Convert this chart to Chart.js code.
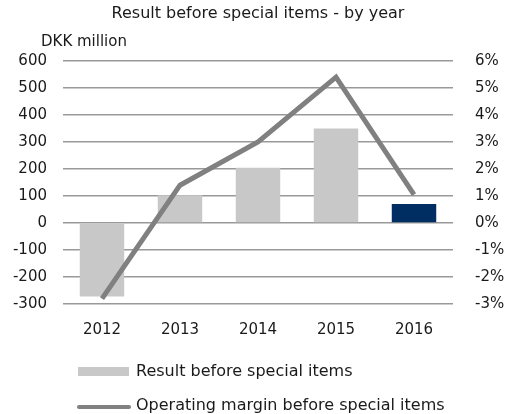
<!DOCTYPE html>
<html>
<head>
<meta charset="utf-8">
<script src="https://cdn.jsdelivr.net/npm/chart.js@4/dist/chart.umd.min.js"></script>
<style>
  html, body { margin: 0; padding: 0; background: #fff; }
  #wrap { width: 505px; height: 414px; }
</style>
</head>
<body>
<div id="wrap"><canvas id="chart" width="505" height="414"></canvas></div>
<script>
// data
const years = ['2012', '2013', '2014', '2015', '2016'];
const resultValues = [-272, 103, 205, 350, 70];
const marginValues = [-2.8, 1.4, 3.0, 5.4, 1.05];
const barColors = ['#c8c8c8', '#c8c8c8', '#c8c8c8', '#c8c8c8', '#002d62'];
const leftRange = [-300, 600];
const rightRange = [-3, 6];

const FONT = '"DejaVu Sans", Verdana, sans-serif';
const TXT = '#1a1a1a';
Chart.defaults.font.family = FONT;
Chart.defaults.color = TXT;

// title, unit label and the two-row legend
const textPlugin = {
    id: 'texts',
    afterDraw(chart) {
        const ctx = chart.ctx;
        const area = chart.chartArea;
        ctx.save();
        ctx.fillStyle = TXT;
        ctx.font = '16px ' + FONT;
        ctx.textBaseline = 'middle';
        ctx.textAlign = 'center';
        ctx.fillText('Result before special items - by year', (area.left + area.right) / 2, 14);
        ctx.font = '15px ' + FONT;
        ctx.textAlign = 'left';
        ctx.fillText('DKK million', 41, 42);

        const ds = chart.data.datasets;
        ctx.font = '16px ' + FONT;
        // bar item
        ctx.fillStyle = '#c8c8c8';
        ctx.fillRect(78, 367, 51, 9);
        ctx.fillStyle = TXT;
        ctx.fillText(ds[0].label, 136, 372);
        // line item
        ctx.strokeStyle = ds[1].borderColor;
        ctx.lineWidth = 4;
        ctx.lineCap = 'round';
        ctx.beginPath();
        ctx.moveTo(79, 407);
        ctx.lineTo(129, 407);
        ctx.stroke();
        ctx.fillText(ds[1].label, 136, 406);
        ctx.restore();
    }
};

new Chart(document.getElementById('chart'), {
    data: {
        labels: years,
        datasets: [
            { type: 'bar', label: 'Result before special items', data: resultValues,
              backgroundColor: barColors, barPercentage: 0.57, categoryPercentage: 1,
              yAxisID: 'y', order: 2 },
            { type: 'line', label: 'Operating margin before special items', data: marginValues,
              borderColor: '#808080', borderWidth: 5, pointRadius: 0, tension: 0,
              yAxisID: 'y1', order: 1 }
        ]
    },
    options: {
        responsive: false,
        animation: false,
        layout: { padding: { top: 61, bottom: 66, left: 0, right: 0 } },
        plugins: { legend: { display: false }, title: { display: false }, tooltip: { enabled: false } },
        scales: {
            x: {
                grid: { display: false },
                border: { display: false },
                ticks: { color: TXT, font: { family: FONT, size: 15 }, padding: 9 }
            },
            y: {
                position: 'left',
                min: leftRange[0], max: leftRange[1],
                ticks: { stepSize: 100, color: TXT, font: { family: FONT, size: 15 }, padding: 16,
                         callback: v => String(v) },
                grid: { display: true, drawOnChartArea: true, color: '#999999', lineWidth: 1.5, tickLength: 0 },
                border: { display: false },
                afterFit(s) { s.width = 63; }
            },
            y1: {
                position: 'right',
                min: rightRange[0], max: rightRange[1],
                ticks: { stepSize: 1, color: TXT, font: { family: FONT, size: 15 }, padding: 14,
                         callback: v => String(v) + '%' },
                grid: { display: false },
                border: { display: false },
                afterFit(s) { s.width = 52; }
            }
        }
    },
    plugins: [textPlugin]
});
</script>
</body>
</html>
